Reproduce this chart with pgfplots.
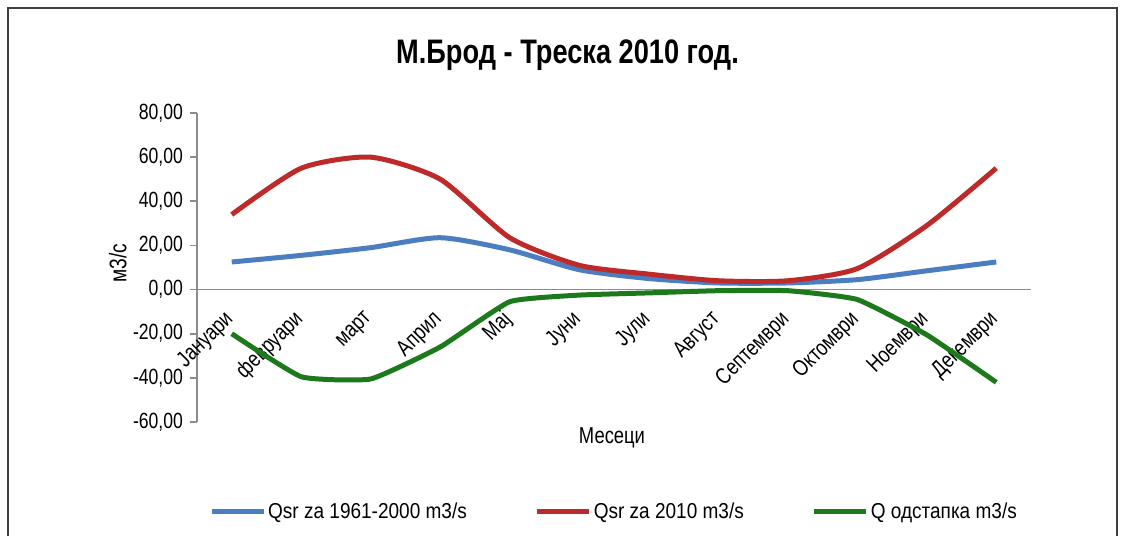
\documentclass[border=0pt]{standalone}
\usepackage{fontspec}
\setmainfont{Liberation Sans}[FakeStretch=0.8]
\newfontfamily\legfont{Liberation Sans}[FakeStretch=0.88]
\usepackage{pgfplots}
\pgfplotsset{compat=1.18}
\definecolor{cblue}{RGB}{74,126,193}
\definecolor{cred}{RGB}{190,42,42}
\definecolor{cgreen}{RGB}{28,122,28}
\begin{document}
\begin{tikzpicture}
\useasboundingbox (0,0) rectangle (562.5pt,268pt);
\draw[line width=0.8pt, black!75] (4pt,0pt) -- (4pt,264pt) -- (558.5pt,264pt) -- (558.5pt,0pt);
\node[font=\fontsize{17}{20}\selectfont\bfseries] at (283.75pt,240.5pt) {М.Брод - Треска 2010 год.};
\begin{axis}[
  at={(98.5pt,57pt)}, anchor=south west,
  scale only axis, width=417pt, height=154.5pt,
  xmin=-0.5, xmax=11.5, ymin=-60, ymax=80,
  axis x line=middle, axis y line=left,
  axis line style={-, draw=gray!90, line width=0.8pt},
  hide obscured x ticks=false, hide obscured y ticks=false,
  xtick={0,...,11},
  xticklabels={Јануари,февруари,март,Април,Мај,Јуни,Јули,Август,Септември,Октомври,Ноември,Декември},
  xticklabel style={rotate=45, anchor=east, font=\fontsize{11.3}{13}\selectfont, inner sep=1pt},
  xticklabel shift=9pt,
  major x tick style={draw=none},
  ytick={-60,-40,...,80},
  y tick style={draw=gray!90, line width=0.8pt},
  tick align=outside, major tick length=3.5pt,
  yticklabel style={font=\fontsize{11}{13}\selectfont, /pgf/number format/.cd, fixed, fixed zerofill, precision=2, use comma, assume math mode=true},
  ylabel={м3/с},
  ylabel style={at={(axis description cs:-0.095,0.515)}, anchor=center, rotate=0, font=\fontsize{12}{14}\selectfont},
  xlabel={Месеци},
  xlabel style={at={(axis description cs:0.4976,-0.052)}, anchor=center, font=\fontsize{11.5}{13}\selectfont},
  legend columns=3,
  legend style={at={(axis description cs:0.5,-0.291)}, anchor=center, draw=none, fill=none,
    font=\legfont\fontsize{10.8}{13}\selectfont,
    /tikz/every even column/.append style={column sep=33pt},
    nodes={inner sep=1pt}},
  legend image code/.code={\draw[#1] (0pt,0pt) -- (26pt,0pt);},
  every axis plot/.append style={line width=2.5pt, smooth, tension=0.4},
]
\addplot[cblue] coordinates {(0,12.5) (1,15.5) (2,19) (3,23.5) (4,18) (5,9) (6,5) (7,3) (8,3) (9,4.5) (10,8.5) (11,12.5)};
\addlegendentry{Qsr za 1961-2000 m3/s}
\addplot[cred] coordinates {(0,34) (1,55) (2,60) (3,50) (4,23.5) (5,11) (6,7) (7,4) (8,4) (9,9.5) (10,29) (11,55)};
\addlegendentry{Qsr za 2010 m3/s}
\addplot[cgreen, tension=0.25] coordinates {(0,-20) (1,-39.5) (2,-40.5) (3,-26) (4,-5.5) (5,-2.5) (6,-1.5) (7,-0.5) (8,-0.5) (9,-4.5) (10,-20.5) (11,-42)};
\addlegendentry{Q одстапка m3/s}
\end{axis}
\end{tikzpicture}
\end{document}
